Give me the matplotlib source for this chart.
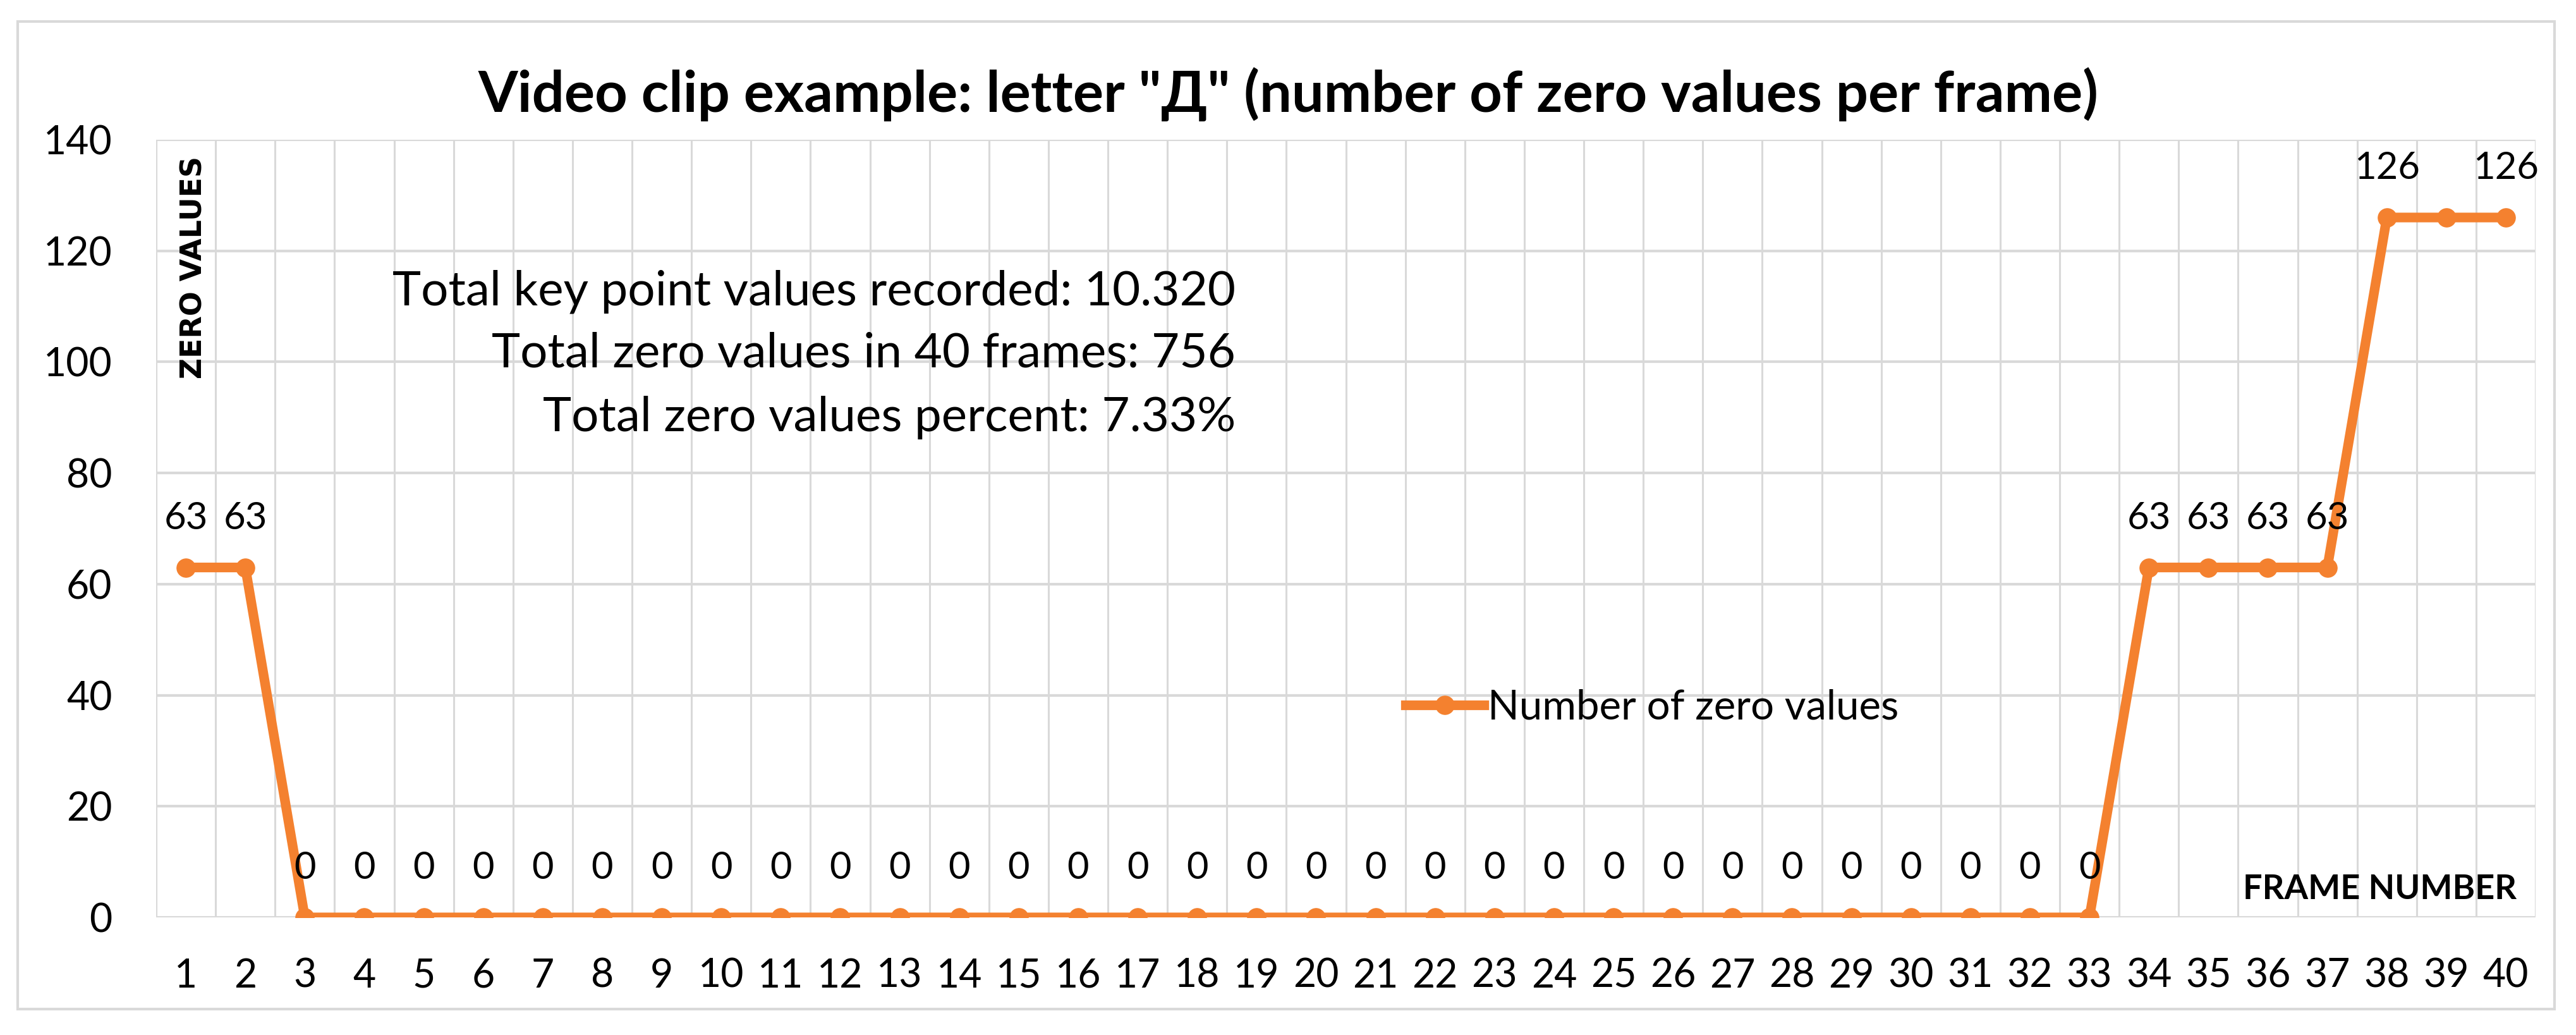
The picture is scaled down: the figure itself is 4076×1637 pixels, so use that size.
import matplotlib.pyplot as plt
from matplotlib import font_manager
from matplotlib.patches import Rectangle

# Data
frames = list(range(1, 41))
zero_counts = [63, 63, 0, 0, 0, 0, 0, 0, 0, 0,
               0, 0, 0, 0, 0, 0, 0, 0, 0, 0,
               0, 0, 0, 0, 0, 0, 0, 0, 0, 0,
               0, 0, 0, 63, 63, 63, 63, 126, 126, 126]
unlabeled_frames = [39]
y_ticks = [0, 20, 40, 60, 80, 100, 120, 140]

title = 'Video clip example: letter "Д" (number of zero values per frame)'
series_name = 'Number of zero values'
summary_lines = ['Total key point values recorded: 10.320',
                 'Total zero values in 40 frames: 756',
                 'Total zero values percent: 7.33%']

ORANGE = '#F4812F'
GRID = '#D9D9D9'

installed = {f.name for f in font_manager.fontManager.ttflist}
base = 'Liberation Sans Narrow' if 'Liberation Sans Narrow' in installed else 'Lato'
plt.rcParams['font.family'] = [base, 'DejaVu Sans']

fig = plt.figure(figsize=(40.76, 16.37), dpi=100)
ax = fig.add_axes([0.0606, 0.1136, 0.9237, 0.7514])

# outer chart border
fig.patches.append(Rectangle((0.0069, 0.0250), 0.9848, 0.9542, transform=fig.transFigure,
                             fill=False, edgecolor=GRID, linewidth=3))

fig.text(0.5, 0.909, title, ha='center', va='center', fontsize=65, fontweight='bold')

ax.plot(frames, zero_counts, color=ORANGE, linewidth=11, marker='o', markersize=21,
        label=series_name, zorder=3)

for f, v in zip(frames, zero_counts):
    if f in unlabeled_frames:
        continue
    ax.annotate(str(v), (f, v), xytext=(0, 56), textcoords='offset points',
                ha='center', va='center', fontsize=43, zorder=4)

ax.set_xlim(0.5, 40.5)
ax.set_ylim(0, 140)
ax.set_xticks(frames)
ax.set_xticklabels([str(f) for f in frames])
ax.set_xticks([f + 0.5 for f in [0] + frames], minor=True)
ax.set_yticks(y_ticks)
ax.tick_params(axis='both', which='both', length=0, labelsize=45)
ax.tick_params(axis='y', pad=50)
ax.tick_params(axis='x', pad=46)

ax.grid(True, axis='y', which='major', color=GRID, linewidth=3)
ax.grid(True, axis='x', which='minor', color=GRID, linewidth=2.2)
ax.set_axisbelow(True)
for s in ax.spines.values():
    s.set_visible(False)

ax.text(0.016, 0.979, 'ZERO VALUES', transform=ax.transAxes, rotation=90,
        ha='center', va='top', fontsize=33, fontweight='bold', family='DejaVu Sans')
ax.text(0.992, 0.036, 'FRAME NUMBER', transform=ax.transAxes,
        ha='right', va='center', fontsize=39, fontweight='bold')

for txt, yf in zip(summary_lines, [0.805, 0.725, 0.643]):
    ax.text(0.4537, yf, txt, transform=ax.transAxes, ha='right', va='center', fontsize=55)

ax.legend(loc='center left', bbox_to_anchor=(0.525, 0.27), frameon=False,
          fontsize=47, handlelength=1.9, handletextpad=0.1, borderpad=0, borderaxespad=0)

fig.savefig('out.png', dpi=100, facecolor='white')
